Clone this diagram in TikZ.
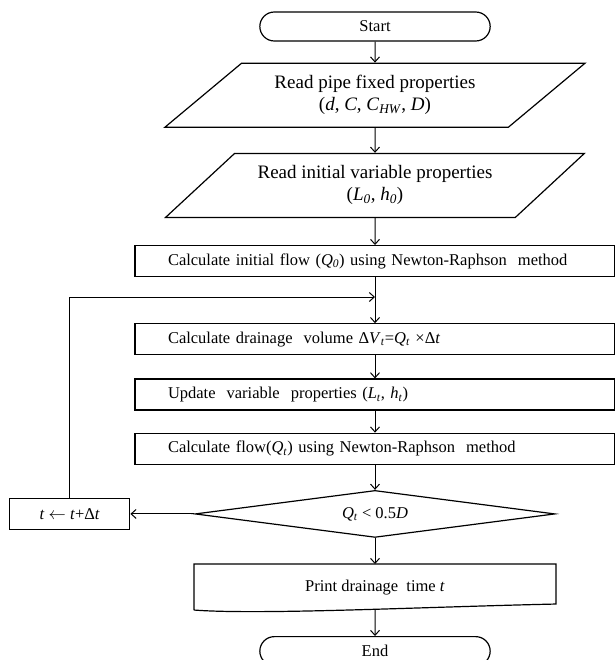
\documentclass[tikz,border=0pt]{standalone}
\usepackage{fontspec}
\setmainfont{Liberation Serif}
\usetikzlibrary{arrows.meta,positioning,calc}
\usetikzlibrary{shapes.geometric,shapes.misc}

% italic symbol with italic subscript
\newcommand{\vs}[2]{\textit{#1}\textsubscript{\textit{#2}}}

\begin{document}
\begin{tikzpicture}[
    x=1pt, y=-1pt,
    % Base styles for the flow chart
    every node/.style={font=\fontsize{16.5}{19}\selectfont},
    >={Straight Barb[length=5pt,width=9pt]},
    every path/.style={line width=1pt},
    term/.style={draw, rounded rectangle, line width=1.2pt,
        minimum width=237pt, minimum height=29pt},
    inbox/.style={draw, trapezium, trapezium left angle=37.7,
        trapezium right angle=142.3, trapezium stretches=true,
        minimum width=421pt, minimum height=64pt, line width=1.2pt,
        align=center, font=\fontsize{19}{22}\selectfont},
    proc/.style={draw, rectangle, line width=1.2pt,
        inner xsep=33pt, text width=414pt, align=left,
        minimum height=31pt},
    cond/.style={draw, diamond, aspect=7.66, line width=1.2pt, inner sep=0pt,
        minimum width=360pt, minimum height=47pt},
    small/.style={draw, rectangle, line width=1.2pt,
        minimum width=120pt, minimum height=31pt},
    doc/.style={rectangle, minimum width=361pt, minimum height=46pt},
    node distance=25pt
]
\useasboundingbox (0,0) rectangle (614,660);

% ==================== MAIN CHAIN ====================
\node[term] (start) at (375,26.5) {Start};
\node[inbox, below=21pt of start] (read1)
    {Read pipe fixed properties\\(\textit{d}, \textit{C}, \vs{C}{HW}, \textit{D})};
\node[inbox, below=25pt of read1] (read2)
    {Read initial variable properties\\(\vs{L}{0}, \vs{h}{0})};
\node[proc, below=27pt of read2] (init)
    {Calculate initial flow (\vs{Q}{0}) using Newton-Raphson\ \ method};
\node[proc, below=46pt of init] (drain)
    {Calculate drainage\ \ volume Δ\vs{V}{t}=\vs{Q}{t} ×Δ\textit{t}};
\node[proc, below=23pt of drain] (update)
    {Update\ \ variable\ \ properties (\vs{L}{t}, \vs{h}{t})};
\node[proc, below=22pt of update] (flow)
    {Calculate flow(\vs{Q}{t}) using Newton-Raphson\ \ method};
\node[cond, below=25pt of flow] (check) {\vs{Q}{t} < 0.5\textit{D}};
\node[doc, below=26pt of check] (print) {Print drainage\ \ time \textit{t}};
\node[term, below=25pt of print] (stop) {End};

% time step box on the left
\node[small, left=64pt of check] (step) {\textit{t} $\leftarrow$ \textit{t}+Δ\textit{t}};

% document shape with wavy bottom
\draw[line width=1.2pt] ([yshift=1pt]print.south west) -- (print.north west) -- (print.north east)
    -- ([yshift=7pt]print.south east)
    .. controls +(-136pt,-3pt) and +(65pt,-5pt) .. ([yshift=1pt]print.south west);

% loop joins the main line here
\coordinate (merge) at ($(init.south)!0.43!(drain.north)$);

% edges with arrows
\foreach \a/\b in {start/read1, read1/read2, read2/init, init/drain, drain/update,
                   update/flow, flow/check, check/print}
    \draw[->] (\a) -- (\b);
\draw[->] ([yshift=1pt]print.south) -- (stop);
\draw[->] (check) -- (step);
\draw[->] (step.north) |- (merge);

\end{tikzpicture}
\end{document}
